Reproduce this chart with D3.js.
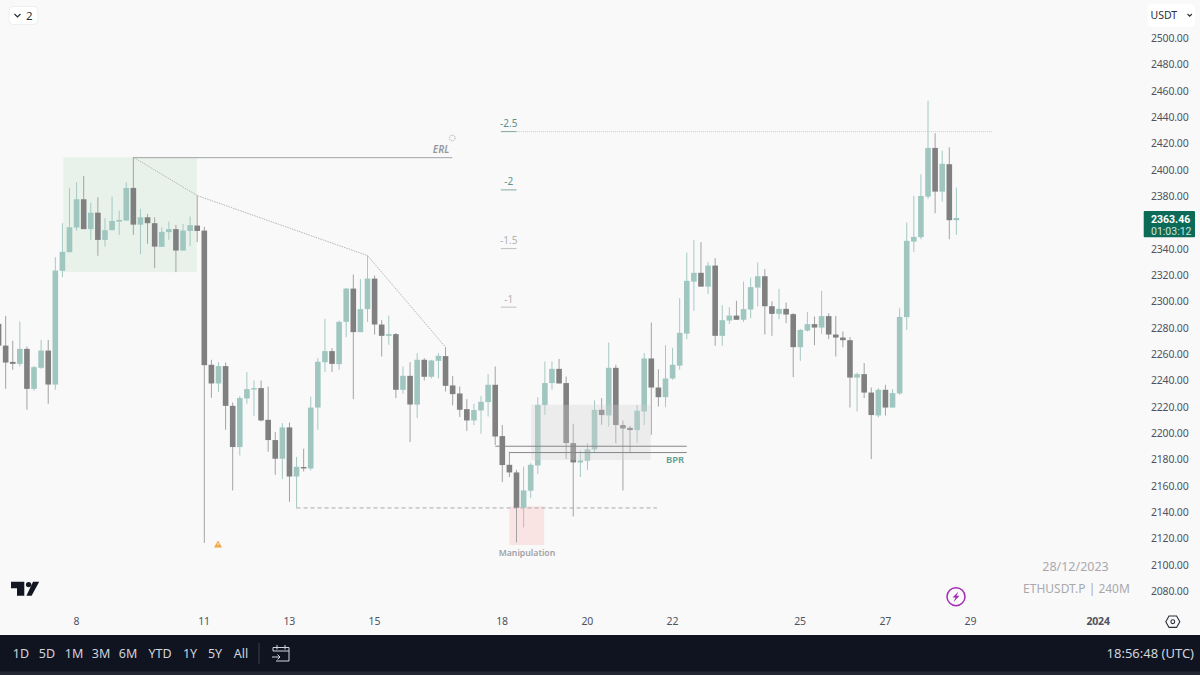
<!DOCTYPE html>
<html>
<head>
<meta charset="utf-8">
<script src="https://d3js.org/d3.v7.min.js"></script>
<style>
  html, body { margin: 0; padding: 0; background: #f9f9fa; overflow: hidden; }
  text { font-family: "Noto Sans", sans-serif; }
  .axis text { fill: #50535e; font-size: 10.5px; letter-spacing: -0.2px; }
  .axis path, .axis line { display: none; }
</style>
</head>
<body>
<div id="chart"></div>
<script>
// bars counted from the 8th 00:00, 6 bars a day (240M)
var firstBar = -11;

var opens = [2283.0,2266.5,2254.1,2252.6,2264.0,2233.6,2249.6,2262.7,2236.9,2323.3,2337.5,
  2356.2,2377.7,2355.0,2367.5,2346.8,2354.2,2360.7,2361.5,2386.3,2358.4,2364.0,2359.5,2341.5,2352.7,2355.0,2338.7,2353.6,2357.7,
  2353.9,2251.9,2237.7,2250.9,2220.7,2189.4,2226.3,2233.1,2234.2,2210.1,2194.7,2180.5,
  2204.3,2167.0,2174.2,2173.1,2219.4,2253.9,2262.3,2252.4,2284.5,2309.8,2276.7,2294.2,
  2317.4,2282.5,2273.9,2275.2,2232.9,2243.5,2221.7,2255.7,2242.8,2254.9,2258.5,2236.2,
  2230.1,2218.2,2209.6,2217.2,2223.6,2236.7,2197.7,2175.9,2170.1,2143.3,2156.2,2175.4,
  2221.3,2238.0,2248.8,2238.0,2192.4,2177.7,2179.0,2187.6,2217.7,2213.4,2249.6,2206.1,
  2204.0,2202.3,2216.4,2256.7,2234.6,2227.3,2241.5,2251.3,2275.6,2315.1,2321.8,2311.3,
  2327.3,2273.9,2285.5,2289.3,2286.1,2293.9,2310.6,2319.2,2296.4,2290.6,2294.4,2290.4,
  2265.3,2277.9,2282.8,2280.2,2288.9,2274.9,2272.6,2270.6,2242.2,2244.8,2230.8,2213.4,
  2232.9,2219.4,2230.1,2288.1,2345.5,2348.9,2379.7,2416.7,2383.5,2404.3,2361.8];
var highs = [2287.6,2289.1,2270.1,2284.8,2265.8,2251.1,2270.8,2270.8,2333.7,2359.5,2386.1,
  2390.6,2395.4,2375.1,2379.2,2363.3,2379.7,2369.1,2390.6,2409.6,2370.4,2366.6,2364.0,2356.4,2360.7,2358.2,2359.0,2364.5,2380.5,
  2356.9,2255.7,2253.9,2253.6,2223.3,2228.3,2246.3,2240.0,2240.0,2235.4,2200.8,2207.6,
  2208.1,2181.8,2188.1,2227.8,2257.0,2286.8,2264.6,2285.5,2310.4,2320.5,2317.0,2334.9,
  2319.7,2285.8,2289.3,2276.0,2250.6,2253.9,2260.8,2257.0,2255.7,2260.8,2265.3,2243.5,
  2235.4,2225.8,2222.3,2228.3,2244.8,2250.6,2206.1,2185.8,2172.1,2174.6,2177.2,2227.3,
  2254.4,2254.4,2256.4,2243.0,2207.1,2186.8,2192.4,2224.8,2226.6,2268.8,2251.9,2209.6,
  2205.5,2221.5,2260.8,2284.0,2248.6,2266.8,2264.8,2302.5,2337.2,2346.8,2345.1,2329.9,
  2332.9,2297.2,2295.7,2300.5,2315.1,2318.2,2329.6,2324.6,2300.2,2309.6,2299.2,2291.1,
  2279.2,2291.9,2288.6,2308.1,2291.1,2289.1,2277.2,2272.9,2246.0,2253.2,2234.6,2234.2,
  2236.7,2233.4,2294.9,2360.0,2380.2,2396.7,2452.6,2427.8,2414.6,2417.2,2386.5];
var lows = [2263.3,2233.6,2248.1,2250.6,2217.7,2232.1,2248.8,2222.3,2232.9,2318.5,2337.5,
  2353.9,2355.0,2346.8,2334.7,2341.7,2354.2,2350.6,2361.5,2350.6,2335.9,2343.8,2325.3,2341.5,2346.8,2322.3,2338.7,2342.3,2345.1,
  2116.5,2226.8,2231.4,2202.5,2156.4,2183.0,2222.3,2213.1,2208.8,2185.8,2168.3,2165.1,
  2147.8,2142.7,2170.8,2171.6,2202.5,2246.5,2246.5,2248.1,2272.9,2225.8,2276.7,2284.5,
  2274.9,2258.2,2267.1,2226.6,2229.9,2193.2,2211.4,2240.0,2241.5,2241.5,2231.6,2221.0,
  2212.2,2201.7,2206.1,2199.5,2212.6,2190.9,2162.8,2166.6,2116.9,2128.3,2150.6,2168.9,
  2213.9,2232.9,2237.7,2180.3,2136.7,2166.6,2172.1,2185.3,2206.3,2205.0,2192.4,2156.4,
  2185.3,2192.4,2206.1,2198.7,2220.2,2219.7,2240.5,2248.1,2271.4,2292.9,2311.3,2305.6,
  2266.3,2266.3,2283.0,2286.1,2284.5,2287.3,2296.1,2274.9,2273.9,2286.6,2283.5,2242.5,
  2254.9,2277.2,2266.8,2275.4,2271.4,2258.2,2265.3,2219.4,2216.4,2226.6,2180.3,2211.9,
  2213.4,2219.4,2229.1,2278.4,2337.7,2347.3,2377.9,2367.1,2375.9,2347.3,2350.6];
var closes = [2266.5,2253.6,2252.6,2264.0,2233.6,2250.1,2262.7,2236.9,2323.5,2337.7,2356.4,
  2377.7,2355.0,2367.5,2346.8,2354.2,2361.2,2362.0,2386.3,2358.4,2364.0,2359.5,2341.7,2352.9,2355.0,2338.7,2353.9,2358.0,2353.6,
  2251.6,2237.7,2250.9,2220.7,2189.4,2226.6,2233.4,2234.2,2209.6,2194.7,2180.5,2204.3,
  2167.0,2174.4,2173.4,2219.4,2254.2,2262.3,2252.6,2284.5,2309.8,2276.7,2294.2,2317.4,
  2282.5,2273.9,2275.2,2232.9,2243.5,2221.7,2255.7,2242.8,2255.2,2258.7,2235.9,2229.6,
  2217.7,2209.6,2217.5,2223.8,2236.7,2197.4,2175.7,2170.1,2143.3,2156.4,2175.9,2221.5,
  2238.0,2248.8,2237.7,2192.4,2177.7,2179.2,2187.6,2217.7,2213.7,2249.6,2206.1,2203.5,
  2202.3,2217.0,2256.7,2234.6,2227.3,2241.5,2251.9,2276.2,2315.7,2321.8,2311.3,2327.3,
  2273.9,2285.8,2289.3,2286.1,2294.2,2310.9,2319.2,2296.4,2290.6,2294.4,2290.1,2265.3,
  2278.4,2282.8,2280.2,2288.9,2274.9,2272.6,2270.6,2242.2,2244.8,2230.8,2213.7,2232.9,
  2219.4,2230.4,2288.3,2346.1,2349.1,2380.2,2416.7,2383.5,2404.6,2361.8,2363.46];

// axis ticks (2360 is hidden behind the last price tag)
var priceTicks = [2080,2100,2120,2140,2160,2180,2200,2220,2240,2260,2280,2300,2320,2340,2380,2400,2420,2440,2460,2480,2500];
var timeBars = [0,18,30,42,60,72,84,102,114,126,144];
var timeLabels = ["8","11","13","15","18","20","22","25","27","29","2024"];
var rangeButtons = ["1D","5D","1M","3M","6M","YTD","1Y","5Y","All"];

// drawings on the chart, in bars and prices
var zoneBars = [-1.87,16.93], zonePrices = [2409.6,2322.3];
var erlBars = [8,52.95], erlPrice = 2409.3;
var trendBars = [8,17,41,52], trendPrices = [2409.6,2380.5,2334.9,2265.3];
var fibLabels = ["-2.5","-2","-1.5","-1"], fibPrices = [2429.1,2384.8,2340.2,2295.7];
var fibBars = [59.8,62], fibExtendBar = 129;
var bprBars = [64.05,80.9], bprPrices = [2221.5,2179.5];
var bprLineStart = [59,61], bprLinePrices = [2190,2185.2], bprLineEnd = 86;
var sweepBars = [31,81.8], sweepPrice = 2143.1;
var manipBars = [61,65.9], manipPrices = [2144.3,2115];
var lastPrice = 2363.46;

var width = 1200, height = 675;

var x = d3.scaleLinear().domain([0,144]).range([76.6,1098.3]);
var y = d3.scaleLinear().domain([2080,2500]).range([591,38.3]);

var svg = d3.select("#chart")
  .append("svg")
  .attr("width", width)
  .attr("height", height)
  .style("display", "block");

svg.append("rect").attr("width", width).attr("height", height).attr("fill", "#f9f9fa");

function box(g, bars, prices, fill) {
  return g.append("rect")
    .attr("x", x(bars[0]))
    .attr("y", y(prices[0]))
    .attr("width", x(bars[1]) - x(bars[0]))
    .attr("height", y(prices[1]) - y(prices[0]))
    .attr("fill", fill);
}

// boxes under the candles
box(svg, zoneBars, zonePrices, "#e8f2ea");
box(svg, manipBars, manipPrices, "#f9e3e3");

// lines under the candles
svg.append("line")
  .attr("x1", x(erlBars[0])).attr("x2", x(erlBars[1]))
  .attr("y1", y(erlPrice)).attr("y2", y(erlPrice))
  .attr("stroke", "#a2a4a6").attr("stroke-width", 1);

var trendLine = d3.line()
  .x(function(d) { return x(d[0]); })
  .y(function(d) { return y(d[1]); });

svg.append("path")
  .attr("d", trendLine(d3.zip(trendBars, trendPrices)))
  .attr("fill", "none")
  .attr("stroke", "#b4b6b8")
  .attr("stroke-width", 1)
  .attr("stroke-dasharray", "1.5,1");

svg.append("line")
  .attr("x1", x(fibBars[0])).attr("x2", x(fibExtendBar))
  .attr("y1", y(fibPrices[0])).attr("y2", y(fibPrices[0]))
  .attr("stroke", "#c3d2d0").attr("stroke-width", 1)
  .attr("stroke-dasharray", "1,1");

svg.selectAll(".fib-seg")
  .data(fibPrices)
  .enter()
  .append("line")
  .attr("class", "fib-seg")
  .attr("x1", x(fibBars[0])).attr("x2", x(fibBars[1]))
  .attr("y1", function(d) { return y(d); })
  .attr("y2", function(d) { return y(d); })
  .attr("stroke", function(d, i) { return i < 2 ? "#86a8a4" : "#bdbfc1"; });

svg.selectAll(".fib-label")
  .data(fibLabels)
  .enter()
  .append("text")
  .attr("class", "fib-label")
  .attr("x", x((fibBars[0] + fibBars[1]) / 2))
  .attr("y", function(d, i) { return y(fibPrices[i]) - 4.5; })
  .attr("text-anchor", "middle")
  .attr("font-size", "10px")
  .attr("fill", function(d, i) { return i < 2 ? "#5f8f8a" : "#b0b2b5"; })
  .text(function(d) { return d; });

svg.append("line")
  .attr("x1", x(sweepBars[0])).attr("x2", x(sweepBars[1]))
  .attr("y1", y(sweepPrice)).attr("y2", y(sweepPrice))
  .attr("stroke", "#a9abad").attr("stroke-width", 1)
  .attr("stroke-dasharray", "4,3");

// candles
var bars = d3.range(opens.length).map(function(i) {
  return { bar: firstBar + i, o: opens[i], h: highs[i], l: lows[i], c: closes[i] };
});

function isUp(d) { return d.c >= d.o; }

svg.selectAll(".wick")
  .data(bars)
  .enter()
  .append("line")
  .attr("class", "wick")
  .attr("x1", function(d) { return x(d.bar); })
  .attr("x2", function(d) { return x(d.bar); })
  .attr("y1", function(d) { return y(d.h); })
  .attr("y2", function(d) { return y(d.l); })
  .attr("stroke", function(d) { return isUp(d) ? "#a5c9c3" : "#a3a3a3"; })
  .attr("stroke-width", 1);

svg.selectAll(".body")
  .data(bars)
  .enter()
  .append("rect")
  .attr("class", "body")
  .attr("x", function(d) { return x(d.bar) - 2.8; })
  .attr("y", function(d) { return y(Math.max(d.o, d.c)); })
  .attr("width", 5.6)
  .attr("height", function(d) { return Math.max(Math.abs(y(d.o) - y(d.c)), 1.4); })
  .attr("fill", function(d) { return isUp(d) ? "#9fc7c0" : "#808080"; });

// BPR box sits over the candles
box(svg, bprBars, bprPrices, "#cfcfd1").attr("fill-opacity", 0.32);

svg.selectAll(".bpr-line")
  .data(bprLinePrices)
  .enter()
  .append("line")
  .attr("class", "bpr-line")
  .attr("x1", function(d, i) { return x(bprLineStart[i]); })
  .attr("x2", x(bprLineEnd))
  .attr("y1", function(d) { return y(d); })
  .attr("y2", function(d) { return y(d); })
  .attr("stroke", "#85878a").attr("stroke-width", 1);

// chart texts
svg.append("text").attr("x", 441).attr("y", 153).attr("text-anchor", "middle")
  .attr("font-size", "10px").attr("font-style", "italic").attr("font-weight", 600)
  .attr("fill", "#96989b").text("ERL");
svg.append("text").attr("x", 675).attr("y", 463).attr("text-anchor", "middle")
  .attr("font-size", "9.5px").attr("font-weight", 600).attr("fill", "#5f9d94").text("BPR");
svg.append("text").attr("x", 527).attr("y", 556).attr("text-anchor", "middle")
  .attr("font-size", "8.7px").attr("font-weight", 600).attr("fill", "#a0a1a6").text("Manipulation");
svg.append("text").attr("x", 1075.5).attr("y", 571).attr("text-anchor", "middle")
  .attr("font-size", "12.5px").attr("fill", "#a9a9ac").text("28/12/2023");
svg.append("text").attr("x", 1076.5).attr("y", 593).attr("text-anchor", "middle")
  .attr("font-size", "12px").attr("fill", "#a9a9ac").text("ETHUSDT.P | 240M");

// small spinner next to ERL
svg.append("circle").attr("cx", 452.3).attr("cy", 138).attr("r", 2.8)
  .attr("fill", "none").attr("stroke", "#9a9a9a").attr("stroke-dasharray", "1,1.2");

// warning triangle
svg.append("path").attr("d", "M218 540.5 L222 547.5 H214 Z").attr("fill", "#f4a640");
svg.append("rect").attr("x", 217.6).attr("y", 543).attr("width", 0.9).attr("height", 2.2).attr("fill", "#fff");

// logo
var logo = svg.append("g").attr("fill", "#131722");
logo.append("path").attr("d", "M11 581.8 H24.3 V595.8 H17 V588.3 H11 Z");
logo.append("circle").attr("cx", 28.6).attr("cy", 584.6).attr("r", 2.7);
logo.append("path").attr("d", "M33 581.8 H39.2 L31.6 595.8 H26.4 Z");

// flash icon
svg.append("circle").attr("cx", 956).attr("cy", 596.7).attr("r", 9)
  .attr("fill", "none").attr("stroke", "#a32bb5").attr("stroke-width", 1.5);
svg.append("path").attr("d", "M958.5 591.5 L952.5 597.6 H955.6 L953.5 602 L959.5 595.8 H956.4 Z")
  .attr("fill", "#a32bb5");

// price axis
var yAxis = d3.axisRight(y).tickValues(priceTicks).tickSize(0).tickFormat(d3.format(".2f"));
svg.append("g")
  .attr("class", "axis")
  .attr("transform", "translate(1148,0)")
  .call(yAxis);

// last price tag
svg.append("rect").attr("x", 1143.7).attr("y", y(lastPrice) - 7).attr("width", 51.3).attr("height", 26.3)
  .attr("rx", 1).attr("fill", "#0c6b58");
svg.append("text").attr("x", 1151).attr("y", y(lastPrice) + 4.6)
  .attr("font-family", "Roboto").style("font-family", "Roboto")
  .attr("font-size", "10.5px").attr("font-weight", 700)
  .attr("fill", "#fff").text(lastPrice.toFixed(2));
svg.append("text").attr("x", 1151).attr("y", y(lastPrice) + 17)
  .style("font-family", "Roboto")
  .attr("font-size", "10.5px")
  .attr("fill", "#cfe3df").text("01:03:12");

// time axis
var xAxis = d3.axisBottom(x)
  .tickValues(timeBars)
  .tickSize(0)
  .tickFormat(function(d, i) { return timeLabels[i]; });
var xAxisG = svg.append("g")
  .attr("class", "axis")
  .attr("transform", "translate(-0.7,615)")
  .call(xAxis);
xAxisG.selectAll("text").attr("font-weight", function(d, i) { return timeLabels[i] === "2024" ? 700 : 400; });

// settings hexagon
svg.append("path").attr("d", "M1165.8 621.7 L1169 616 H1176.6 L1179.8 621.7 L1176.6 627.4 H1169 Z")
  .attr("fill", "none").attr("stroke", "#2a2e39").attr("stroke-width", 1.1);
svg.append("circle").attr("cx", 1172.8).attr("cy", 621.7).attr("r", 1.9)
  .attr("fill", "none").attr("stroke", "#2a2e39").attr("stroke-width", 1.1);

// top buttons
svg.append("rect").attr("x", 9).attr("y", 6.5).attr("width", 29).attr("height", 18).attr("rx", 4)
  .attr("fill", "#fff").attr("stroke", "#eeeeef");
svg.append("path").attr("d", "M14.5 14 L17.5 17 L20.5 14").attr("fill", "none").attr("stroke", "#2a2e39").attr("stroke-width", 1.2);
svg.append("text").attr("x", 26).attr("y", 19.5).attr("font-size", "11.5px").attr("fill", "#2a2e39").text("2");

svg.append("rect").attr("x", 1147.7).attr("y", 4.3).attr("width", 47.3).attr("height", 22.4).attr("rx", 4)
  .attr("fill", "#fff");
svg.append("text").attr("x", 1150.5).attr("y", 19).attr("font-size", "10.5px").attr("fill", "#2a2e39").text("USDT");
svg.append("path").attr("d", "M1187.5 14 L1189.7 16.2 L1191.9 14").attr("fill", "none").attr("stroke", "#2a2e39").attr("stroke-width", 1.1);

// bottom toolbar
svg.append("rect").attr("x", 0).attr("y", 635).attr("width", width).attr("height", 40).attr("fill", "#101420");
svg.append("rect").attr("x", 0).attr("y", 671.5).attr("width", width).attr("height", 3.5).attr("fill", "#232733");

var buttonX = [21,47,74,101,128,160,190,215,241];
svg.selectAll(".range")
  .data(rangeButtons)
  .enter()
  .append("text")
  .attr("class", "range")
  .attr("x", function(d, i) { return buttonX[i]; })
  .attr("y", 657.5)
  .attr("text-anchor", "middle")
  .attr("font-size", "12.5px")
  .attr("fill", "#d1d4dc")
  .text(function(d) { return d; });

svg.append("line").attr("x1", 259).attr("x2", 259).attr("y1", 643).attr("y2", 664).attr("stroke", "#3a3e4a");

svg.append("path")
  .attr("d", "M273 651 V647.5 H289 V661 H276 M273 651 H289 M277 645 V649.5 M285 645 V649.5 M272 657 H280 M277.5 654.5 L280 657 L277.5 659.5")
  .attr("fill", "none").attr("stroke", "#d1d4dc").attr("stroke-width", 1);

svg.append("text").attr("x", 1194).attr("y", 657.5).attr("text-anchor", "end")
  .attr("font-size", "13px").attr("fill", "#d1d4dc").text("18:56:48 (UTC)");
</script>
</body>
</html>
